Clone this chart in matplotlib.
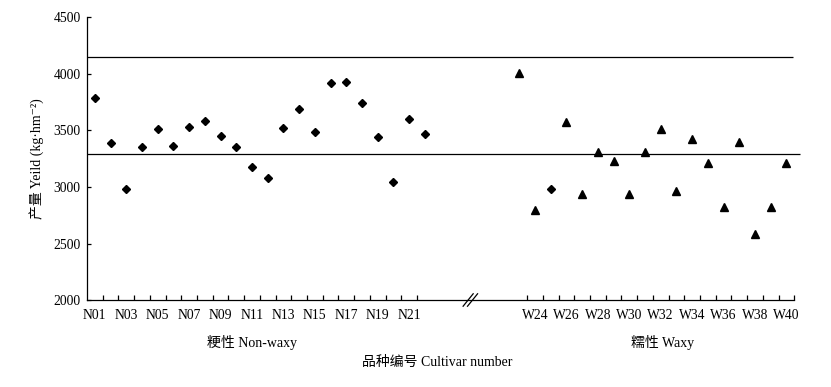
import matplotlib
matplotlib.use('Agg')
import matplotlib.pyplot as plt
import matplotlib.transforms as mtransforms

plt.rcParams['font.family'] = ['Liberation Serif', 'Noto Sans CJK SC', 'DejaVu Serif']

# Non-waxy cultivars N01-N22
nw_labels = ['N%02d' % i for i in range(1, 23)]
nw_yield = [3786, 3392, 2981, 3351, 3510, 3363, 3534, 3586, 3454, 3351, 3181,
            3084, 3521, 3692, 3483, 3918, 3930, 3745, 3442, 3048, 3604, 3472]
# Waxy cultivars W23-W40 (W25 is drawn with a diamond in the original)
w_labels = ['W%02d' % i for i in range(23, 41)]
w_yield = [4008, 2795, 2983, 3574, 2937, 3310, 3228, 2937, 3310, 3510, 2966,
           3422, 3210, 2819, 3401, 2584, 2819, 3216]
w_diamond = ['W25']
ref_lines = [4150, 3290]

gap = 5  # empty slots for the axis break
nw_x = list(range(len(nw_labels)))
w_x = [len(nw_labels) + gap + i for i in range(len(w_labels))]

fig = plt.figure(figsize=(8.31, 3.87), dpi=100)
ax = fig.add_axes([0.1047, 0.2248, 0.8511, 0.7300])

ax.plot(nw_x, nw_yield, 'D', color='black', markersize=3.8, linestyle='none')
for x, y, lab in zip(w_x, w_yield, w_labels):
    if lab in w_diamond:
        ax.plot(x, y, 'D', color='black', markersize=3.8)
    else:
        ax.plot(x, y, '^', color='black', markersize=6)

xmin, xmax = -0.5, w_x[-1] + 0.5
ax.hlines(ref_lines[0], xmin, xmax - 0.1, color='black', lw=0.9, clip_on=False)
ax.hlines(ref_lines[1], xmin, xmax + 0.35, color='black', lw=0.9, clip_on=False)

ax.set_xlim(xmin, xmax)
ax.set_ylim(2000, 4500)
ax.set_yticks(range(2000, 4501, 500))

# labels on every second cultivar, tick marks between cultivars
major = nw_x[::2] + w_x[1::2]
major_lab = nw_labels[::2] + w_labels[1::2]
ax.set_xticks(major)
ax.set_xticklabels(major_lab)
minor = [x + 0.5 for x in nw_x[:-1]] + [x + 0.5 for x in w_x]
ax.set_xticks(minor, minor=True)
ax.tick_params(axis='x', which='major', length=0, pad=6.5, labelsize=9.8)
ax.tick_params(axis='x', which='minor', direction='in', length=3.5, width=0.9)
ax.tick_params(axis='y', direction='in', length=3, width=0.9, pad=4.5, labelsize=9.8)

for s in ['top', 'right']:
    ax.spines[s].set_visible(False)
for s in ['left', 'bottom']:
    ax.spines[s].set_linewidth(0.9)

ax.set_ylabel('产量 Yeild (kg·hm⁻²)', fontsize=10, labelpad=7)

# break marks on the x axis
tr = mtransforms.blended_transform_factory(ax.transData, ax.transAxes)
bx = (nw_x[-1] + w_x[0]) / 2 - 0.25
for off in [0, 0.28]:
    ax.plot([bx - 0.32 + off, bx + 0.32 + off], [-0.022, 0.022], color='black',
            lw=0.9, transform=tr, clip_on=False)

# group labels
ftr = mtransforms.blended_transform_factory(ax.transData, fig.transFigure)
ax.text((nw_x[0] + nw_x[-1]) / 2 - 0.5, 0.1145, '粳性 Non-waxy', transform=ftr,
        ha='center', va='center', fontsize=10)
ax.text((w_x[0] + w_x[-1]) / 2 + 0.6, 0.1145, '糯性 Waxy', transform=ftr,
        ha='center', va='center', fontsize=10)
fig.text(436.7 / 831, 0.0628, '品种编号 Cultivar number', ha='center', va='center',
         fontsize=10)

fig.savefig('out.png', dpi=100)
